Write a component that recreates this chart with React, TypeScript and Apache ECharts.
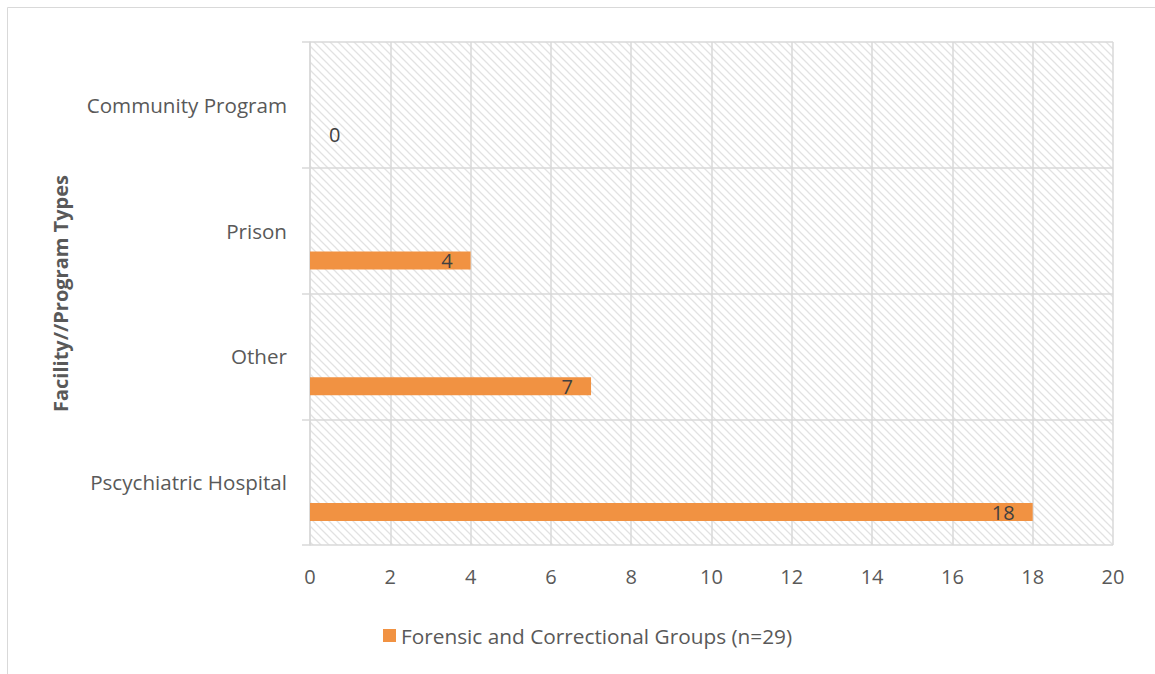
import React, { useEffect, useRef } from "react";
import * as echarts from "echarts";

const categories = ["Pscychiatric Hospital", "Other", "Prison", "Community Program"];
const groupValues = [18, 7, 4, 0];
const xTicks = { min: 0, max: 20, interval: 2 };
const seriesName = "Forensic and Correctional Groups (n=29)";
const axisTitle = "Facility//Program Types";

const FONT = "'Open Sans', 'Noto Sans', sans-serif";
const TEXT = "#595959";
const GRID_LINE = "#d9d9d9";
const BAR = "#f19242";

function makeHatch(): HTMLCanvasElement {
  const c = document.createElement("canvas");
  c.width = 8;
  c.height = 8;
  const ctx = c.getContext("2d")!;
  ctx.fillStyle = "#ffffff";
  ctx.fillRect(0, 0, 8, 8);
  ctx.strokeStyle = "#e2e2e2";
  ctx.lineWidth = 1.3;
  ctx.beginPath();
  ctx.moveTo(-1, -1);
  ctx.lineTo(9, 9);
  ctx.moveTo(-1, 7);
  ctx.lineTo(1, 9);
  ctx.moveTo(7, -1);
  ctx.lineTo(9, 1);
  ctx.stroke();
  return c;
}

export default function App() {
  const ref = useRef<HTMLDivElement>(null);

  useEffect(() => {
    if (!ref.current) return;
    const chart = echarts.init(ref.current, undefined, { renderer: "svg" });
    const hatch = makeHatch();

    chart.setOption({
      animation: false,
      backgroundColor: "#ffffff",
      textStyle: { fontFamily: FONT },
      graphic: [
        {
          type: "rect",
          shape: { x: 7.5, y: 7.5, width: 1200, height: 700 },
          style: { fill: "none", stroke: "#d9d9d9", lineWidth: 1 },
          silent: true,
          z: -10,
        },
      ],
      grid: {
        left: 310,
        right: 42,
        top: 42,
        bottom: 129,
        show: true,
        borderWidth: 0,
        backgroundColor: { image: hatch, repeat: "repeat" } as any,
      },
      legend: {
        left: 378,
        top: 620,
        icon: "rect",
        itemWidth: 13,
        itemHeight: 13,
        itemGap: 6,
        itemStyle: { color: BAR },
        data: [seriesName],
        textStyle: { fontFamily: FONT, fontSize: 20.8, color: TEXT },
      },
      xAxis: {
        type: "value",
        min: xTicks.min,
        max: xTicks.max,
        interval: xTicks.interval,
        axisLine: { show: false },
        axisTick: { show: false },
        splitLine: { show: true, lineStyle: { color: GRID_LINE, width: 1.5 } },
        axisLabel: { fontFamily: FONT, fontSize: 20, color: TEXT, margin: 21 },
      },
      yAxis: {
        type: "category",
        data: categories,
        name: axisTitle,
        nameLocation: "middle",
        nameRotate: 90,
        nameGap: 240,
        nameTextStyle: { fontFamily: FONT, fontSize: 20, fontWeight: "bold", color: TEXT },
        axisLine: { show: true, lineStyle: { color: GRID_LINE, width: 1.5 } },
        axisTick: { show: true, length: 8, lineStyle: { color: GRID_LINE, width: 1.5 } },
        splitLine: { show: true, lineStyle: { color: GRID_LINE, width: 1.5 } },
        axisLabel: {
          fontFamily: FONT,
          fontSize: 20.6,
          color: TEXT,
          margin: 23,
          padding: [10, 0, 0, 0],
        },
      },
      series: [
        {
          name: "spacer",
          type: "bar",
          barWidth: 18,
          barGap: "233%",
          silent: true,
          itemStyle: { color: "transparent" },
          data: categories.map(() => "-"),
        },
        {
          name: seriesName,
          type: "bar",
          barWidth: 18,
          barGap: "233%",
          itemStyle: { color: BAR },
          label: {
            show: true,
            position: "insideRight",
            distance: 18,
            color: "#404040",
            fontFamily: FONT,
            fontSize: 20,
            padding: [3, 0, 0, 0],
          },
          data: groupValues.map((v) =>
            v === 0
              ? { value: v, label: { position: "right", distance: 19, padding: [6, 0, 0, 0] } }
              : v
          ),
        },
      ],
    });

    return () => chart.dispose();
  }, []);

  return (
    <div
      ref={ref}
      style={{ position: "fixed", left: 0, top: 0, width: 1155, height: 674 }}
    />
  );
}
